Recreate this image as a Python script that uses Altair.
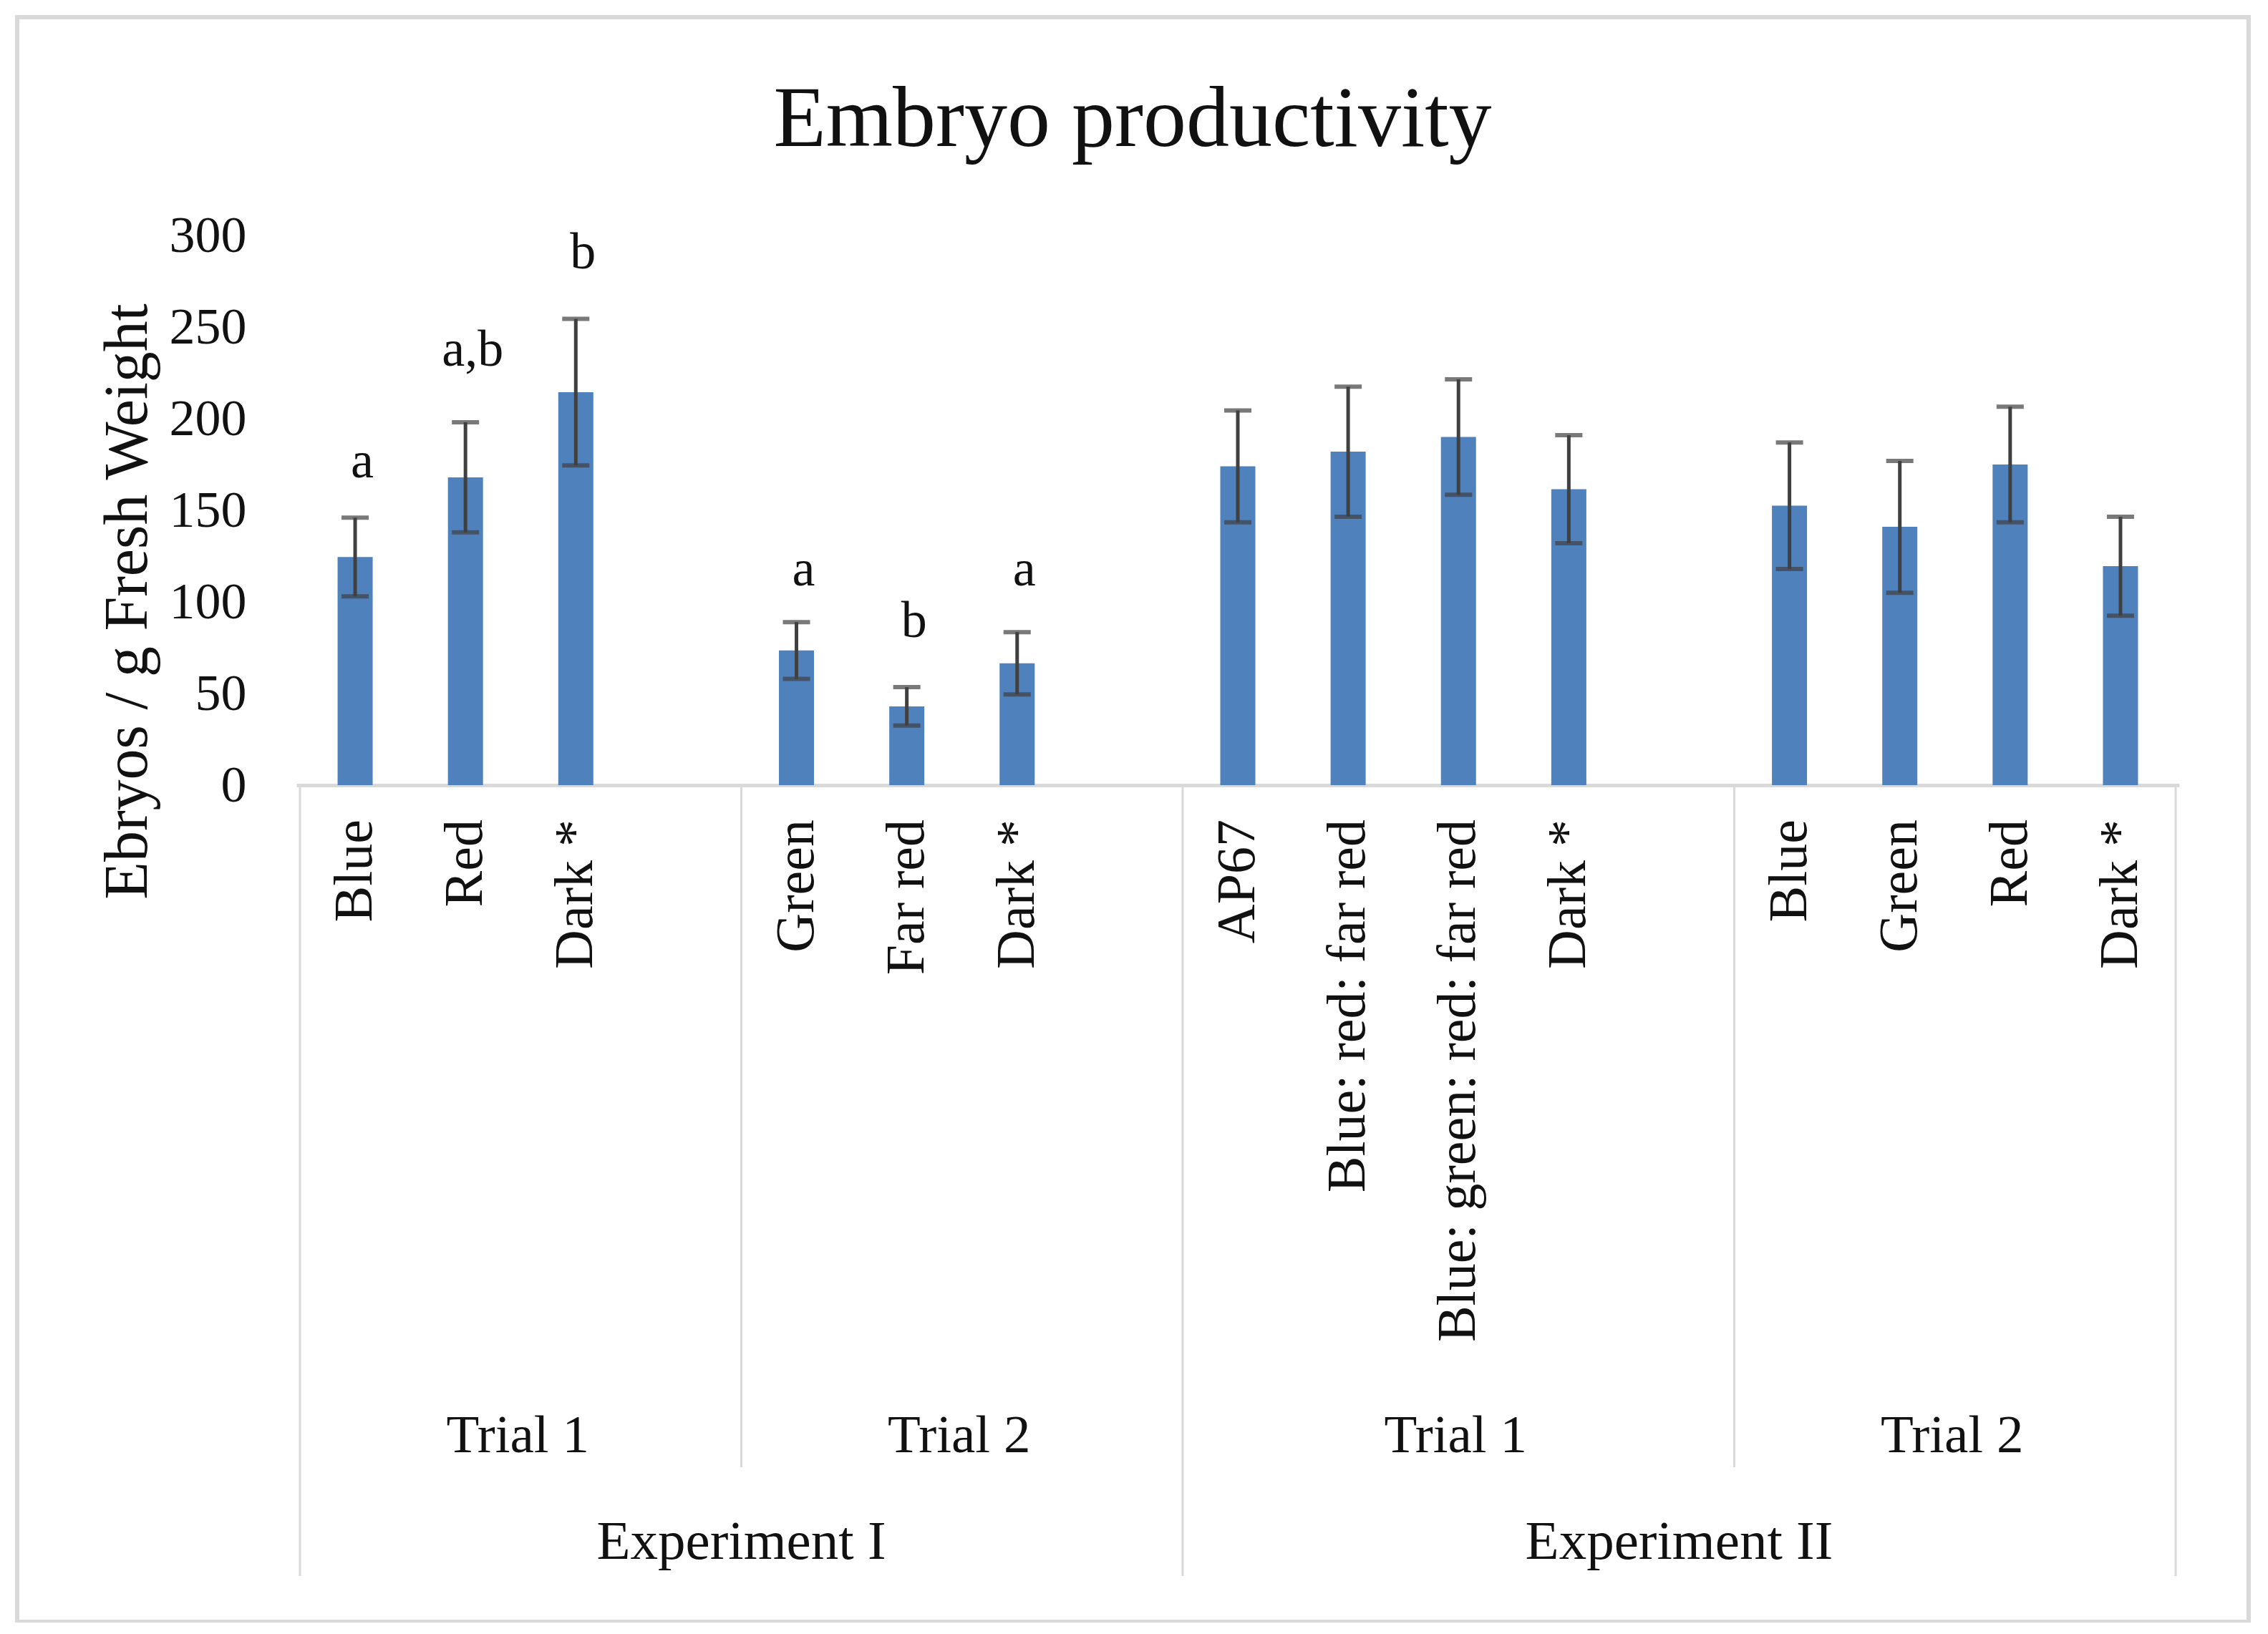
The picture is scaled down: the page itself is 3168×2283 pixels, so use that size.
import altair as alt
import pandas as pd

# ---- data ----
conditions = ["Blue", "Red", "Dark *", "Green", "Far red", "Dark *",
              "AP67", "Blue: red: far red", "Blue: green: red: far red", "Dark *",
              "Blue", "Green", "Red", "Dark *"]
trials = ["Trial 1"] * 3 + ["Trial 2"] * 3 + ["Trial 1"] * 4 + ["Trial 2"] * 4
experiments = ["Experiment I"] * 6 + ["Experiment II"] * 8
means = [124.5, 168, 214.5, 73.5, 43, 66.5, 174, 182, 190, 161.5, 152.5, 141, 175, 119.5]
errors = [21.5, 30, 40, 15.5, 10.5, 17, 30.5, 35.5, 31.5, 29.5, 34.5, 36, 31.5, 27]
letters = ["a", "a,b", "b", "a", "b", "a", "", "", "", "", "", "", "", ""]
letter_y = [168, 229, 282, 109, 81, 109, None, None, None, None, None, None, None, None]
y_ticks = [0, 50, 100, 150, 200, 250, 300]
chart_title = "Embryo productivity"

FONT = "Liberation Serif"
BLUE = "#4F81BD"
ERR = "#404040"
GRID = "#D9D9D9"
TXT = "#111111"

# ---- slot positions (Excel-style blank category after each trial group) ----
slots, s, prev = [], 0, None
for e, t in zip(experiments, trials):
    key = (e, t)
    if prev is not None and key != prev:
        s += 1
    slots.append(s + 0.5)
    s += 1
    prev = key
n_slots = s

df = pd.DataFrame({
    "cond": conditions, "trial": trials, "exp": experiments,
    "mean": means, "err": errors, "slot": slots,
    "letter": letters, "letter_y": letter_y,
})
df["lo"] = df["mean"] - df["err"]
df["hi"] = df["mean"] + df["err"]

# group extents
keys = list(dict.fromkeys(zip(experiments, trials)))
starts = []
for k in keys:
    sub = df[(df.exp == k[0]) & (df.trial == k[1])]
    starts.append(int(sub.slot.min() - 0.5))
ends = starts[1:] + [n_slots]
tdf = pd.DataFrame([{"label": k[1], "exp": k[0], "start": a, "end": b, "center": (a + b) / 2}
                    for k, a, b in zip(keys, starts, ends)])
edf = tdf.groupby("exp", sort=False).agg(start=("start", "min"), end=("end", "max")).reset_index()
edf["center"] = (edf.start + edf.end) / 2
exp_bounds = sorted(set(edf.start.tolist() + edf.end.tolist()))
trial_bounds = sorted(set(tdf.start.tolist() + tdf.end.tolist()) - set(exp_bounds))
eb = pd.DataFrame({"pos": exp_bounds})
tb = pd.DataFrame({"pos": trial_bounds})

W, H = 2630, 768
xs = alt.Scale(domain=[0, n_slots], nice=False, zero=False)
ys = alt.Scale(domain=[0, 300], nice=False)

x_enc = alt.X("slot:Q", scale=xs, title=None,
              axis=alt.Axis(domain=True, domainColor=GRID, domainWidth=5, ticks=False,
                            labels=False, grid=False))
bars = alt.Chart(df).mark_bar(size=49, color=BLUE).encode(
    x=x_enc,
    y=alt.Y("mean:Q", scale=ys, title="Ebryos / g Fresh Weight",
            axis=alt.Axis(values=y_ticks, domain=False, ticks=False, grid=False,
                          labelFont=FONT, labelFontSize=72, labelColor=TXT, labelPadding=70,
                          titleFont=FONT, titleFontSize=86, titleFontWeight="normal",
                          titleColor=TXT, titleX=-236, titleY=511, titleAngle=270,
                          titleAlign="center", titleBaseline="middle")),
)
err_rule = alt.Chart(df).mark_rule(color=ERR, strokeWidth=5).encode(
    x=alt.X("slot:Q", scale=xs), y=alt.Y("lo:Q", scale=ys), y2="hi:Q")
cap_lo = alt.Chart(df).mark_tick(orient="horizontal", size=38, thickness=6, color=ERR).encode(
    x=alt.X("slot:Q", scale=xs), y=alt.Y("lo:Q", scale=ys))
cap_hi = alt.Chart(df).mark_tick(orient="horizontal", size=38, thickness=6, color=ERR).encode(
    x=alt.X("slot:Q", scale=xs), y=alt.Y("hi:Q", scale=ys))

letter_layer = alt.Chart(df[df.letter != ""]).mark_text(
    font=FONT, fontSize=72, color=TXT, baseline="alphabetic", dx=10).encode(
    x=alt.X("slot:Q", scale=xs), y=alt.Y("letter_y:Q", scale=ys), text="letter:N")

cat_labels = alt.Chart(df).mark_text(
    font=FONT, fontSize=76, color=TXT, angle=270, align="right", baseline="middle").encode(
    x=alt.X("slot:Q", scale=xs), y=alt.value(816), text="cond:N")

trial_labels = alt.Chart(tdf).mark_text(
    font=FONT, fontSize=75, color=TXT, baseline="middle", dx=-4).encode(
    x=alt.X("center:Q", scale=xs), y=alt.value(1677), text="label:N")
exp_labels = alt.Chart(edf).mark_text(
    font=FONT, fontSize=77, color=TXT, baseline="middle").encode(
    x=alt.X("center:Q", scale=xs), y=alt.value(1826), text="exp:N")

trial_sep = alt.Chart(tb).mark_rule(color=GRID, strokeWidth=3).encode(
    x=alt.X("pos:Q", scale=xs), y=alt.value(H), y2=alt.value(1721))
exp_sep = alt.Chart(eb).mark_rule(color=GRID, strokeWidth=3).encode(
    x=alt.X("pos:Q", scale=xs), y=alt.value(H), y2=alt.value(1873))

border = alt.Chart(pd.DataFrame({"k": [0]})).mark_rect(
    fill=None, stroke=GRID, strokeWidth=6).encode(
    x=alt.value(-390), x2=alt.value(2727), y=alt.value(-305), y2=alt.value(1937))

title_layer = alt.Chart(pd.DataFrame({"t": [chart_title]})).mark_text(
    font=FONT, fontSize=120, color=TXT, baseline="middle", align="center").encode(
    x=alt.value(1168), y=alt.value(-161), text="t:N")

chart = alt.layer(
    border, trial_sep, exp_sep, bars, err_rule, cap_lo, cap_hi,
    letter_layer, cat_labels, trial_labels, exp_labels, title_layer,
).properties(
    width=W, height=H,
    background="white",
    autosize=alt.AutoSizeParams(type="none"),
    padding={"left": 406, "top": 321, "right": 110, "bottom": 1170},
).configure_view(stroke=None)

chart.save("out.html", embed_options={"renderer": "svg", "actions": False})
